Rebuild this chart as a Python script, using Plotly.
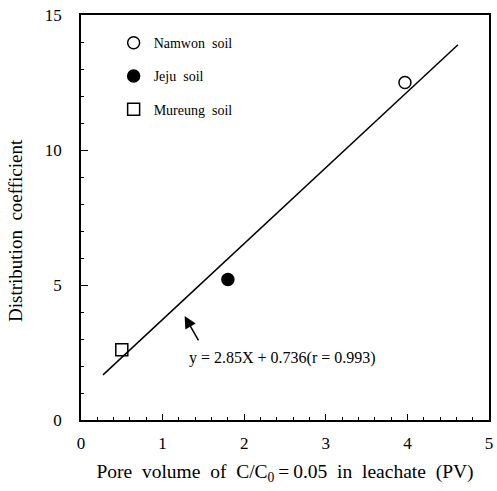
import plotly.graph_objects as go

# ---- data ----
soil_names = ["Namwon\u00a0\u00a0soil", "Jeju\u00a0\u00a0soil", "Mureung\u00a0\u00a0soil"]
pore_volume = [3.97, 1.80, 0.50]
dist_coef = [12.5, 5.2, 2.6]
symbols = ["circle-open", "circle", "square-open"]

fit_x = [0.27, 4.62]
fit_y = [1.67, 13.9]
equation = "y = 2.85X + 0.736(r = 0.993)"

x_ticks = [0, 1, 2, 3, 4, 5]
y_ticks = [0, 5, 10, 15]

FONT = "Liberation Serif"

fig = go.Figure()

for i, name in enumerate(soil_names):
    fig.add_trace(go.Scatter(
        x=[pore_volume[i]], y=[dist_coef[i]], mode="markers", name=name,
        legendgroup=name,
        marker=dict(symbol=symbols[i], size=12, color="black",
                    line=dict(color="black", width=1.5)),
    ))

fig.add_trace(go.Scatter(x=fit_x, y=fit_y, mode="lines", showlegend=False,
                         line=dict(color="black", width=1.5)))

fig.add_annotation(x=1.27, y=3.85, ax=1.45, ay=2.89, axref="x", ayref="y",
                   xref="x", yref="y", text="", showarrow=True,
                   arrowhead=2, arrowsize=1.6, arrowwidth=1.5, arrowcolor="black")
fig.add_annotation(x=1.30, y=2.3, xref="x", yref="y", xanchor="left",
                   text=equation, showarrow=False,
                   font=dict(family=FONT, size=16, color="black"))
# y-axis title
fig.add_annotation(x=-0.162, y=0.469, xref="paper", yref="paper",
                   xanchor="center", yanchor="middle", textangle=-90,
                   text="Distribution\u00a0\u00a0coefficient", showarrow=False,
                   font=dict(family=FONT, size=19, color="black"))

axis_common = dict(showline=True, linecolor="black", linewidth=1.5, mirror=True,
                   ticks="inside", tickcolor="black", tickwidth=1.2,
                   showgrid=False, zeroline=False, automargin=False,
                   ticklabeloverflow="allow",
                   tickfont=dict(family=FONT, size=17, color="black"))

fig.update_xaxes(range=[0, 5], tickvals=x_ticks, ticklen=6,
                 minor=dict(dtick=0.2, ticks="inside", ticklen=3, tickcolor="black", tickwidth=1),
                 ticklabelstandoff=7,
                 title=dict(text="Pore\u00a0\u00a0volume\u00a0\u00a0of\u00a0\u00a0C/C<sub>0</sub>\u2009=\u20090.05\u00a0\u00a0in\u00a0\u00a0leachate\u00a0\u00a0(PV)",
                            font=dict(family=FONT, size=19.5, color="black"), standoff=12),
                 **axis_common)
fig.update_yaxes(range=[0, 15], tickvals=y_ticks, ticklen=7,
                 minor=dict(dtick=1, ticks="inside", ticklen=3, tickcolor="black", tickwidth=1),
                 ticklabelstandoff=14,
                 **axis_common)

fig.update_layout(
    width=497, height=491,
    margin=dict(l=81, r=8, t=15, b=71),
    paper_bgcolor="white", plot_bgcolor="white",
    showlegend=True,
    legend=dict(x=0.08, y=0.97, xanchor="left", yanchor="top",
                bgcolor="rgba(0,0,0,0)", tracegroupgap=12,
                font=dict(family=FONT, size=14, color="black")),
)

fig.write_html("out.html", config={"displayModeBar": False},
               post_script="document.body.style.margin='0';")
